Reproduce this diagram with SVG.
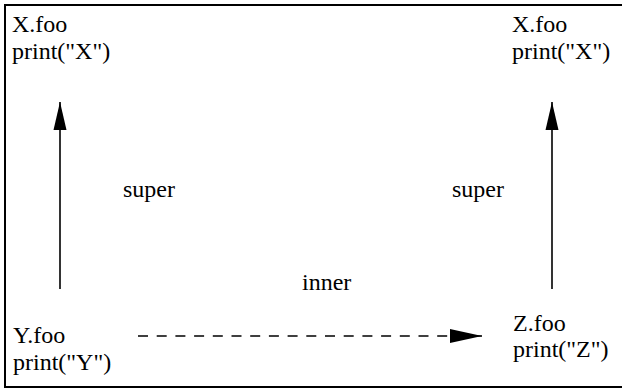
<svg xmlns="http://www.w3.org/2000/svg" width="622" height="389" viewBox="0 0 622 389">
<style>
text{font-family:"Liberation Serif","Times New Roman",serif;font-size:24px;fill:#000}
.frame{stroke:#000;stroke-width:2;fill:none}
.edge{stroke:#000;stroke-width:1.6;fill:none}
.dash{stroke-dasharray:10,8.7}
</style>
<defs>
<marker id="ah" markerUnits="userSpaceOnUse" orient="auto" refX="0" refY="0" markerWidth="40" markerHeight="20" overflow="visible">
<path d="M0,0 L-28,-6.5 L-28,6.5 Z" fill="#000"/>
</marker>
<marker id="ah2" markerUnits="userSpaceOnUse" orient="auto" refX="0" refY="0" markerWidth="40" markerHeight="20" overflow="visible">
<path d="M0,0 L-32,-7 L-32,7 Z" fill="#000"/>
</marker>
</defs>
<g id="frame">
<path class="frame" d="M622,5 H5 V387 H622"/>
</g>
<g id="connectors">
<line class="edge" x1="60" y1="289" x2="60" y2="102" marker-end="url(#ah)"/>
<line class="edge" x1="552" y1="289" x2="552" y2="102" marker-end="url(#ah)"/>
<line class="edge dash" x1="138" y1="336" x2="482" y2="336" marker-end="url(#ah2)"/>
<text x="123" y="197">super</text>
<text x="452" y="197">super</text>
<text x="302" y="290">inner</text>
</g>
<g id="xfoo-left">
<text x="12" y="32">X.foo</text>
<text x="12" y="59">print("X")</text>
</g>
<g id="xfoo-right">
<text x="512" y="32">X.foo</text>
<text x="512" y="59">print("X")</text>
</g>
<g id="yfoo">
<text x="13" y="343">Y.foo</text>
<text x="13" y="370">print("Y")</text>
</g>
<g id="zfoo">
<text x="513" y="331">Z.foo</text>
<text x="513" y="357">print("Z")</text>
</g>
</svg>
